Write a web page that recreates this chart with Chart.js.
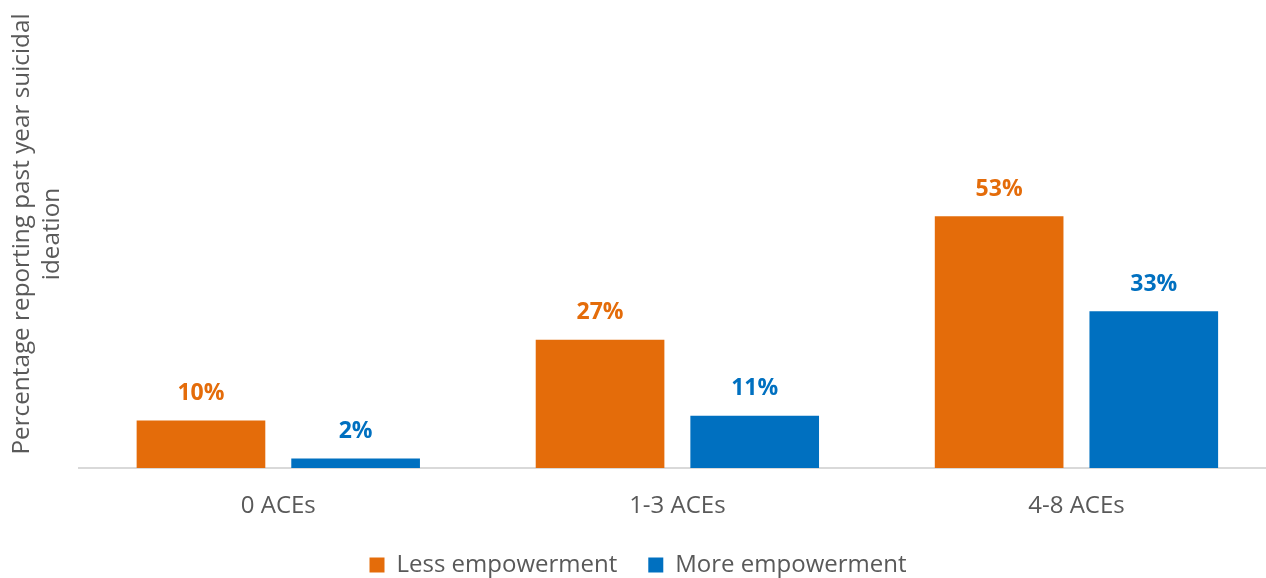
<!DOCTYPE html>
<html>
<head>
<meta charset="utf-8">
<script src="https://cdn.jsdelivr.net/npm/chart.js@4"></script>
<style>
  html, body { margin: 0; padding: 0; background: #fff; overflow: hidden; }
  #wrap { width: 1276px; height: 587px; }
</style>
</head>
<body>
<div id="wrap"><canvas id="grafico"></canvas></div>
<script>
const categorias = ["0 ACEs", "1-3 ACEs", "4-8 ACEs"];
const menosEmpoderamento = [10, 27, 53];
const maisEmpoderamento = [2, 11, 33];
const nomesSeries = ["Less empowerment", "More empowerment"];
const tituloEixoY = ["Percentage reporting past year suicidal", "ideation"];

const laranja = "#E46C0A";
const azul = "#0070C0";
const cinza = "#595959";
const fonte = "'Open Sans', 'Noto Sans', sans-serif";

// rótulos em cima das barras
const rotulos = {
  id: "rotulos",
  afterDatasetsDraw(chart) {
    const c = chart.ctx;
    c.save();
    c.font = "bold 23px " + fonte;
    c.textAlign = "center";
    c.textBaseline = "middle";
    chart.data.datasets.forEach((ds, i) => {
      chart.getDatasetMeta(i).data.forEach((bar, j) => {
        c.fillStyle = ds.backgroundColor;
        c.fillText(ds.data[j] + "%", bar.x, bar.y - 27);
      });
    });
    c.restore();
  },
};

new Chart(document.getElementById("grafico"), {
  type: "bar",
  data: {
    labels: categorias,
    datasets: [
      { label: nomesSeries[0], data: menosEmpoderamento, backgroundColor: laranja },
      { label: nomesSeries[1], data: maisEmpoderamento, backgroundColor: azul },
    ],
  },
  plugins: [rotulos],
  options: {
    responsive: true,
    maintainAspectRatio: false,
    animation: false,
    categoryPercentage: 0.775,
    barPercentage: 0.832,
    layout: { padding: 0 },
    plugins: {
      tooltip: { enabled: false },
      legend: {
        position: "bottom",
        labels: {
          color: cinza,
          font: { size: 24, family: fonte },
          boxWidth: 15,
          boxHeight: 15,
          padding: 31,
        },
      },
    },
    scales: {
      y: {
        min: 0,
        max: 98.5,
        grid: { display: false },
        border: { display: false },
        ticks: { display: false },
        title: {
          display: true,
          text: tituloEixoY,
          color: cinza,
          font: { size: 24.3, family: fonte, lineHeight: 1.25 },
          padding: { top: 7, bottom: 3 },
        },
      },
      x: {
        grid: { display: false, drawTicks: false },
        border: { color: "#d9d9d9", width: 2 },
        ticks: {
          color: cinza,
          font: { size: 24, family: fonte },
          padding: 24,
        },
        // altura fixa do eixo pra sobrar espaço pra legenda
        afterFit: (scale) => {
          scale.height = 54;
        },
      },
    },
  },
});
</script>
</body>
</html>
